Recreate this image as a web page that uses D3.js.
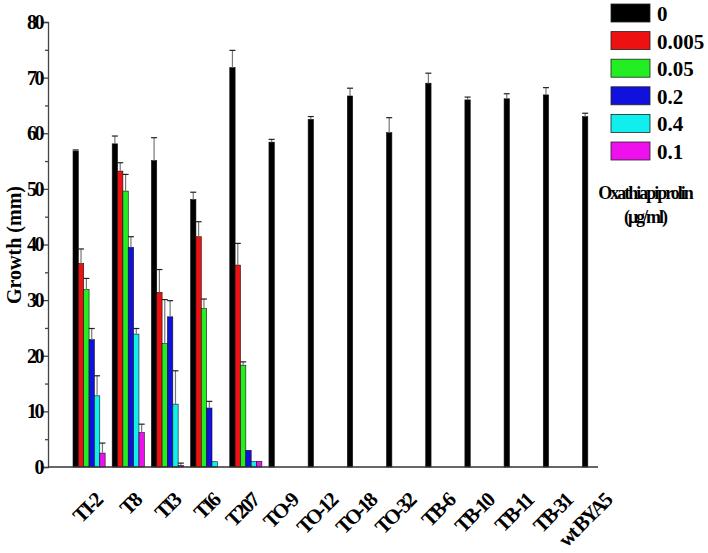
<!DOCTYPE html>
<html>
<head>
<meta charset="UTF-8">
<title>Growth vs oxathiapiprolin</title>
<script src="https://d3js.org/d3.v7.min.js"></script>
<style>
    body { margin: 0; background: #fff; }
    text { font-family: "Liberation Serif", "Times New Roman", serif; font-weight: bold; }
</style>
</head>
<body>
<script>
// isolates along the x axis
const isolates = ["TI-2", "T8", "TI3", "TI6", "T207", "TO-9", "TO-12", "TO-18", "TO-32",
                  "TB-6", "TB-10", "TB-11", "TB-31", "wt BYA5"];
// concentrations (legend order)
const concs = ["0", "0.005", "0.05", "0.2", "0.4", "0.1"];
const colors = ["#000000", "#ee1111", "#22ee22", "#1111dd", "#11eeee", "#ee11ee"];

// mean growth (mm), one array per concentration
const mean0     = [56.8, 58.1, 55.1, 48.1, 71.8, 58.4, 62.5, 66.7, 60.1, 69.0, 66.0, 66.2, 66.9, 63.0];
const mean0005  = [36.6, 53.2, 31.4, 41.4, 36.3];
const mean005   = [31.9, 49.6, 22.2, 28.5, 18.3];
const mean02    = [22.9, 39.5, 27.0, 10.6, 3.0];
const mean04    = [12.8, 23.9, 11.3, 0.95, 1.0];
const mean01    = [2.5, 6.2, 0.3, 0, 1.0];
// standard errors
const err0      = [0.2, 1.4, 4.1, 1.3, 3.1, 0.5, 0.5, 1.4, 2.7, 1.8, 0.5, 0.9, 1.3, 0.6];
const err0005   = [2.6, 1.5, 4.1, 2.7, 3.9];
const err005    = [2.0, 3.0, 7.9, 1.7, 0.6];
const err02     = [2.0, 1.9, 2.9, 1.2, 0];
const err04     = [3.6, 1.0, 6.0, 0, 0];
const err01     = [1.8, 1.5, 0.4, 0, 0];

const means = [mean0, mean0005, mean005, mean02, mean04, mean01];
const errs = [err0, err0005, err005, err02, err04, err01];

const yTicks = [0, 10, 20, 30, 40, 50, 60, 70, 80];

const width = 708, height = 553;
const svg = d3.select("body").append("svg").attr("width", width).attr("height", height);

const y = d3.scaleLinear().domain([0, 80]).range([467, 22]);
const x = d3.scaleBand().domain(isolates).range([73, 614.6]).paddingInner(0.18).paddingOuter(0);
const xs = d3.scaleBand().domain(concs).range([0, x.bandwidth()]);

const axisX = 48;

// bars
const bars = [];
means.forEach((arr, ci) => arr.forEach((v, gi) => {
    if (v != null) bars.push({ g: isolates[gi], c: concs[ci], ci: ci, v: v, e: errs[ci][gi] });
}));

svg.append("g").selectAll("rect").data(bars).join("rect")
    .attr("x", d => x(d.g) + xs(d.c))
    .attr("y", d => y(d.v))
    .attr("width", xs.bandwidth())
    .attr("height", d => y(0) - y(d.v))
    .attr("fill", d => colors[d.ci])
    .attr("stroke", "#111")
    .attr("stroke-width", 0.6);

// error bars (upper only)
const eb = bars.filter(d => d.e > 0);
const cx = d => x(d.g) + xs(d.c) + xs.bandwidth() / 2;
const gErr = svg.append("g");
gErr.selectAll("line.v").data(eb).join("line").attr("class", "v")
    .attr("x1", cx).attr("x2", cx)
    .attr("y1", d => y(d.v))
    .attr("y2", d => y(d.v + d.e))
    .attr("stroke", "#777").attr("stroke-width", 1.2);
gErr.selectAll("line.c").data(eb).join("line").attr("class", "c")
    .attr("x1", d => cx(d) - 3).attr("x2", d => cx(d) + 3)
    .attr("y1", d => y(d.v + d.e))
    .attr("y2", d => y(d.v + d.e))
    .attr("stroke", "#222").attr("stroke-width", 1.2);

// y axis
const yAxis = svg.append("g").attr("transform", `translate(${axisX},0)`)
    .call(d3.axisLeft(y).tickValues(yTicks).tickSize(5).tickPadding(1).tickFormat(d3.format("d")));
yAxis.select(".domain").attr("stroke", "#444").attr("stroke-width", 1.3);
yAxis.selectAll(".tick line").attr("stroke", "#444").attr("stroke-width", 1.3);
yAxis.selectAll(".tick text")
    .attr("font-family", "'Liberation Serif', serif").attr("font-weight", "bold")
    .attr("font-size", 20).attr("letter-spacing", -2.5).attr("fill", "#000");
svg.append("g").attr("transform", `translate(${axisX},0)`)
    .call(d3.axisLeft(y).tickValues(yTicks.slice(0, -1).map(t => t + 5)).tickSize(3).tickFormat(""))
    .call(g => g.select(".domain").remove())
    .selectAll(".tick line").attr("stroke", "#444").attr("stroke-width", 1.3);

// x axis line
svg.append("line").attr("x1", axisX).attr("x2", 598).attr("y1", y(0)).attr("y2", y(0))
    .attr("stroke", "#333").attr("stroke-width", 1.3);

// x labels, rotated 45 degrees
svg.append("g").selectAll("text").data(isolates).join("text")
    .attr("transform", d => `translate(${x(d) + x.bandwidth() / 2 + 3},${491}) rotate(-45)`)
    .attr("text-anchor", "end")
    .attr("dy", "0.75em")
    .attr("font-size", 21)
    .attr("letter-spacing", -2.2)
    .text(d => d);

// y label
svg.append("text")
    .attr("transform", "translate(21,245) rotate(-90)")
    .attr("text-anchor", "middle")
    .attr("font-size", 20)
    .text("Growth (mm)");

// legend
const leg = svg.append("g").selectAll("g").data(concs).join("g")
    .attr("transform", (d, i) => `translate(611,${4 + i * 27.6})`);
leg.append("rect").attr("width", 39).attr("height", 18)
    .attr("fill", (d, i) => colors[i]).attr("stroke", "#222").attr("stroke-width", 0.8);
leg.append("text").attr("x", 46).attr("y", 17).attr("font-size", 21).text(d => d);

svg.append("text").attr("x", 645).attr("y", 199).attr("text-anchor", "middle")
    .attr("font-size", 18).attr("letter-spacing", -2).text("Oxathiapiprolin");
svg.append("text").attr("x", 645).attr("y", 223).attr("text-anchor", "middle")
    .attr("font-size", 18).attr("letter-spacing", -2).text("(\u03bcg/ml)");
</script>
</body>
</html>
